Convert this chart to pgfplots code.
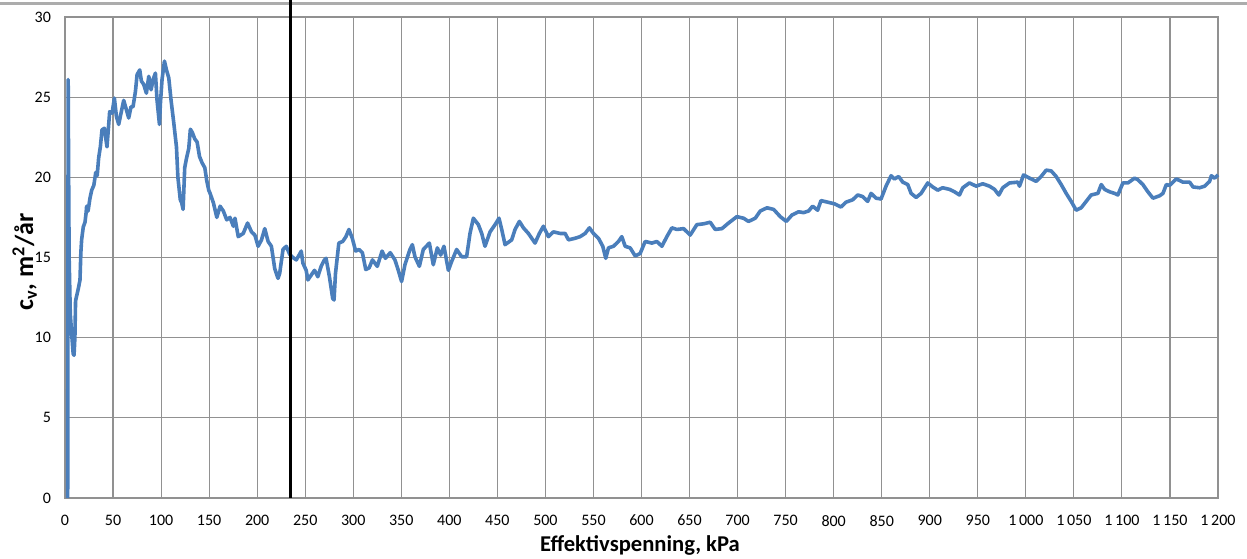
\documentclass[border=0pt]{standalone}
\usepackage{fontspec}
\setmainfont{Carlito}
\usepackage{pgfplots}
\pgfplotsset{compat=1.18}
\definecolor{cvblue}{RGB}{74,126,187}
\definecolor{gridgray}{RGB}{145,145,145}
\pgfplotstableread{
x y
2.8 0
3.0 12
3.3 26.1
3.7 21
4.3 15
5.5 11.5
7 10.2
8.5 9.0
9.4 8.9
10.3 10.0
11 12.3
12.5 12.7
14 13.1
15.6 13.6
16.5 15.3
17.3 16.1
19 16.9
20.8 17.2
22 17.8
22.5 18.2
24 17.9
26 18.7
27.8 19.2
30 19.5
32 20.3
33.5 20.1
35 21.2
36.8 21.9
38.5 22.96
41 23.06
43.7 21.9
46.5 24.1
49 24.0
51.4 24.94
53.5 23.8
55.9 23.3
58.3 24.0
61.1 24.8
63.5 24.3
66.3 23.7
68.7 24.4
70.8 24.4
73.3 25.35
75 26.4
77.8 26.7
79.5 26.0
81.9 25.8
84.7 25.25
87.2 26.3
89.6 25.46
91.7 26.1
94.1 26.5
95.8 24.8
98.3 23.3
99.3 24.6
101 26.1
103.5 27.25
105.6 26.7
108 26.2
110.4 24.8
113.2 23.4
116 21.9
117.5 20.0
120 18.6
121.5 18.4
122.9 18.0
124.6 20.6
126.5 21.2
128.8 21.8
130.5 23.0
132.5 22.8
135 22.4
137.5 22.2
140 21.3
142.7 20.9
145.5 20.6
147.5 19.8
149.6 19.2
151 19.0
154.5 18.4
158 17.5
161.4 18.2
164.8 17.9
168.3 17.35
171.7 17.5
175.2 16.95
176.9 17.45
180.3 16.3
185.5 16.5
190 17.15
194.1 16.6
197.6 16.4
201 15.7
204.5 16.1
207.9 16.8
211.4 16.0
214.8 15.7
218.3 14.3
221.7 13.7
223.4 14.0
226.9 15.5
230.3 15.7
233.8 15.2
237.2 15.0
240.7 14.85
244.1 15.2
245.9 15.4
247.6 14.65
251 14.2
252.8 13.6
256.2 13.9
259.7 14.2
263.1 13.8
266.6 14.45
270 14.85
271.7 14.95
275.2 13.8
278.6 12.45
280 12.35
281.5 14.0
285 15.9
289 16.0
292.4 16.3
295.5 16.75
299 16.2
302.5 15.4
306 15.5
309.5 15.3
313 14.25
316.5 14.35
320 14.85
325 14.45
330 15.4
333.5 14.95
338.5 15.3
343.4 14.85
346.9 14.2
350.3 13.5
353.8 14.55
359 15.5
361.5 15.8
364.2 15.05
368.8 14.45
372.9 15.5
379.2 15.9
383.3 14.55
387.5 15.6
391 15.15
394.4 15.7
399 14.2
402.4 14.75
407.6 15.5
412.8 15.05
418 15.05
421.5 16.5
425 17.45
430.2 17.05
433.7 16.5
437.1 15.7
442.4 16.6
447.6 17.05
451.7 17.45
454.5 16.75
458 15.8
464.9 16.1
468.4 16.75
472.9 17.25
477.1 16.85
482.3 16.5
489.2 15.9
493.7 16.5
497.9 16.95
503.1 16.3
508.3 16.6
515.3 16.5
520.5 16.5
524 16.1
530.9 16.2
536.1 16.3
541.3 16.5
545.8 16.85
550 16.5
555.2 16.2
559.7 15.7
562.8 14.95
565.6 15.6
570.8 15.7
576 16.0
579.5 16.3
583 15.7
588.2 15.6
593.4 15.1
598.6 15.25
603.8 16.0
610.8 15.9
616 16.0
621.2 15.7
626.4 16.3
631.6 16.85
636.8 16.75
643.8 16.8
650.7 16.4
657.6 17.05
664.6 17.1
671.5 17.2
676.7 16.75
683.7 16.8
690.6 17.15
699.3 17.55
706.2 17.45
711.4 17.25
718.4 17.45
723.6 17.9
730.6 18.1
737.5 18.0
744.4 17.55
750.7 17.25
756.6 17.65
763.5 17.85
768.7 17.8
773.9 17.9
778.1 18.2
783.3 17.95
786.8 18.55
793.8 18.45
800.7 18.35
807.6 18.15
812.8 18.45
819.8 18.6
825 18.9
830.2 18.8
835.4 18.5
838.9 19.0
844.1 18.7
849.3 18.65
854.5 19.45
859.7 20.1
863.2 19.9
867.7 20.05
871.9 19.7
877.1 19.55
880.6 19.0
885.8 18.75
891 19.0
897.9 19.65
903.1 19.4
908.3 19.2
913.5 19.35
920.5 19.25
925.7 19.1
930.9 18.9
934.4 19.35
941.3 19.65
948.3 19.45
955.2 19.6
962.1 19.45
967.4 19.25
971.9 18.9
976 19.35
983 19.65
991.7 19.7
993.4 19.45
997.6 20.15
1003.8 19.95
1010.7 19.75
1015.9 20.05
1021.2 20.45
1026.4 20.4
1031.6 20.05
1036.8 19.55
1042 19.0
1047.2 18.5
1052.4 17.95
1057.6 18.1
1062.8 18.5
1068 18.9
1075 19.0
1078.5 19.55
1082 19.25
1087.1 19.1
1092.3 19.0
1095.8 18.9
1101 19.65
1106.2 19.65
1113.2 19.95
1116.6 19.85
1121.8 19.55
1127 19.1
1132.3 18.7
1139.2 18.85
1142.7 19.0
1146.2 19.55
1149.6 19.5
1156.6 19.9
1163.5 19.7
1170.5 19.7
1174 19.4
1180.9 19.35
1186.1 19.45
1191.3 19.75
1193.1 20.1
1196.5 19.95
1200 20.15
}\cvdata
\begin{document}
\begin{tikzpicture}
\useasboundingbox (0,0) rectangle (623.5pt,279pt);
\draw[gray!65, line width=1.2pt] (0,277.2pt) -- (623.5pt,277.2pt);
\begin{axis}[
  at={(32.5pt,30pt)}, anchor=south west,
  scale only axis, width=576.5pt, height=240.5pt,
  xmin=0, xmax=1200, ymin=0, ymax=30,
  xtick={0,50,...,1200}, ytick={0,5,...,30},
  grid=major,
  major grid style={gridgray, line width=0.55pt},
  axis line style={gridgray, line width=0.55pt},
  major tick length=0pt,
  clip=false,
  tick label style={font=\fontsize{8}{9.5}\selectfont},
  /pgf/number format/assume math mode=true,
  /pgf/number format/1000 sep={\,},
  yticklabel style={xshift=-3.5pt},
  xticklabel style={yshift=-5pt},
  xlabel={Effektivspenning, kPa},
  ylabel={c\textsubscript{v}, m\textsuperscript{2}/år},
  xlabel style={font=\fontsize{11.3}{13}\selectfont\bfseries, at={(axis description cs:0.4987,-0.098)}, anchor=center},
  ylabel style={font=\fontsize{13}{15}\selectfont\bfseries, at={(axis description cs:-0.035,0.49)}, anchor=center, rotate=0},
]
\addplot[cvblue, line width=1.8pt, line join=round] table[x=x,y=y] {\cvdata};
\draw[black, line width=1.5pt] (axis cs:235,0) -- (axis cs:235,31.1);
\end{axis}
\end{tikzpicture}
\end{document}
